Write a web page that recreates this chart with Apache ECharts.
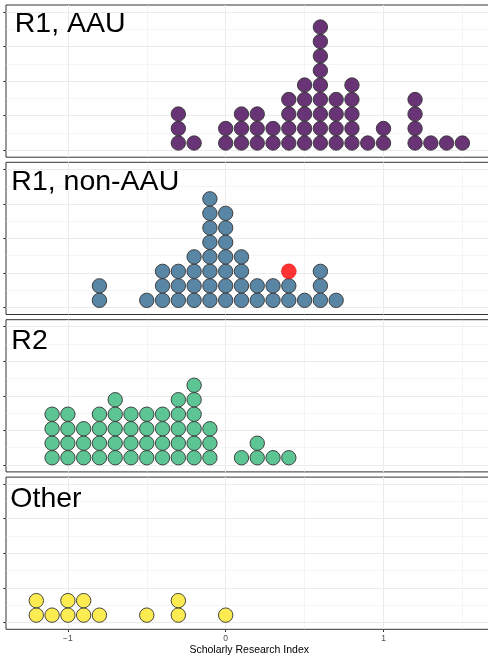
<!DOCTYPE html>
<html><head><meta charset="utf-8">
<style>html,body{margin:0;padding:0;background:#fff}#chart{width:488px;height:656px}</style>
<script src="https://cdn.jsdelivr.net/npm/echarts@6/dist/echarts.min.js"></script>
</head><body><div id="chart"></div>
<script>
// ---- data ----
const panelNames = ['R1, AAU', 'R1, non-AAU', 'R2', 'Other'];

const binsAAU   = [-0.3, -0.2, 0.0, 0.1, 0.2, 0.3, 0.4, 0.5, 0.6, 0.7, 0.8, 0.9, 1.0, 1.2, 1.3, 1.4, 1.5];
const countsAAU = [3, 1, 2, 3, 3, 2, 4, 5, 9, 4, 5, 1, 2, 4, 1, 1, 1];

const binsNonAAU   = [-0.8, -0.5, -0.4, -0.3, -0.2, -0.1, 0.0, 0.1, 0.2, 0.3, 0.4, 0.5, 0.6, 0.7];
const countsNonAAU = [2, 1, 3, 3, 4, 8, 7, 4, 2, 2, 2, 1, 3, 1];
const highlightBins = [0.4];   // highlighted institution (R1, non-AAU), stacked on top of its bin

const binsR2   = [-1.1, -1.0, -0.9, -0.8, -0.7, -0.6, -0.5, -0.4, -0.3, -0.2, -0.1, 0.1, 0.2, 0.3, 0.4];
const countsR2 = [4, 4, 3, 4, 5, 4, 4, 4, 5, 6, 3, 1, 2, 1, 1];

const binsOther   = [-1.2, -1.1, -1.0, -0.9, -0.8, -0.5, -0.3, 0.0];
const countsOther = [2, 1, 2, 2, 1, 1, 2, 1];

const xTickValues  = [-1, 0, 1];
const xMinorValues = [-0.5, 0.5, 1.5];
const yTickValues  = [0, 0.25, 0.5, 0.75, 1];
const yMinorValues = [0.125, 0.375, 0.625, 0.875];
const xAxisTitle = 'Scholarly Research Index';

// ---- layout / style ----
const FONT = '"Liberation Sans", Arial, Helvetica, sans-serif';
const PANEL_TOPS = [5, 162.3, 319.7, 477.1];
const PANEL_H = 152.2;
const GRID_LEFT = 6, GRID_W = 486.4;
const X_MIN = -1.392, X_MAX = 1.69;
const Y_MIN = -0.05, Y_MAX = 1.05;
const STACK_DY = 0.1048;
const DOT = 14.4;
const fills = ['#693476', '#5A86A5', '#5DC594', '#FDEC51'];
const titlePos = [[14.7, 9.6], [11.3, 168], [11.3, 326.3], [10.3, 484.6]];

const panels = [
  [binsAAU, countsAAU],
  [binsNonAAU, countsNonAAU],
  [binsR2, countsR2],
  [binsOther, countsOther]
];

function stackPoints(bins, counts) {
  const pts = [];
  bins.forEach((b, i) => {
    for (let k = 0; k < counts[i]; k++) pts.push([b, (k + 0.5) * STACK_DY]);
  });
  return pts;
}

const grids = [], xAxes = [], yAxes = [], series = [], titles = [];
const fmt = v => (v < 0 ? '\u2212' + Math.abs(v) : String(v));

panels.forEach((p, i) => {
  grids.push({
    left: GRID_LEFT, top: PANEL_TOPS[i], width: GRID_W, height: PANEL_H,
    show: true, borderColor: '#333333', borderWidth: 1, backgroundColor: 'rgba(0,0,0,0)',
    containLabel: false, outerBoundsMode: 'none'
  });
  const last = i === panels.length - 1;
  xAxes.push({
    type: 'value', gridIndex: i, min: X_MIN, max: X_MAX, position: 'bottom',
    axisLine: { show: false, onZero: false },
    axisTick: { show: last, customValues: xTickValues, length: 2.7, lineStyle: { color: '#333333', width: 1 } },
    axisLabel: { show: last, customValues: xTickValues, formatter: fmt, color: '#4D4D4D', fontSize: 8.5, margin: 4.5, fontFamily: FONT },
    splitLine: { show: true, lineStyle: { color: '#EBEBEB', width: 1 } },
    name: last ? xAxisTitle : '', nameLocation: 'middle', nameGap: 15.5,
    nameTextStyle: { color: '#000', fontSize: 10.5, fontFamily: FONT }
  });
  xAxes.push({
    type: 'value', gridIndex: i, min: X_MIN, max: X_MAX, position: 'bottom',
    axisLine: { show: false, onZero: false },
    axisTick: { show: false, customValues: xMinorValues },
    axisLabel: { show: false, customValues: xMinorValues },
    splitLine: { show: true, lineStyle: { color: '#EBEBEB', width: 0.5 } }
  });
  yAxes.push({
    type: 'value', gridIndex: i, min: Y_MIN, max: Y_MAX, position: 'left',
    axisLine: { show: false, onZero: false },
    axisTick: { show: true, customValues: yTickValues, length: 2.7, lineStyle: { color: '#333333', width: 1 } },
    axisLabel: { show: false, customValues: yTickValues },
    splitLine: { show: true, lineStyle: { color: '#EBEBEB', width: 1 } }
  });
  yAxes.push({
    type: 'value', gridIndex: i, min: Y_MIN, max: Y_MAX, position: 'left',
    axisLine: { show: false, onZero: false },
    axisTick: { show: false, customValues: yMinorValues },
    axisLabel: { show: false, customValues: yMinorValues },
    splitLine: { show: true, lineStyle: { color: '#EBEBEB', width: 0.5 } }
  });
  series.push({
    type: 'scatter', name: panelNames[i], xAxisIndex: 2 * i, yAxisIndex: 2 * i,
    data: stackPoints(p[0], p[1]), symbol: 'circle', symbolSize: DOT, silent: true,
    itemStyle: { color: fills[i], borderColor: '#333333', borderWidth: 0.9, opacity: 1 }, z: 3
  });
  titles.push({
    text: panelNames[i], left: titlePos[i][0], top: titlePos[i][1], padding: 0,
    textStyle: { fontSize: 28.5, fontWeight: 'normal', color: '#000', fontFamily: FONT }
  });
});

// highlighted dot in the R1, non-AAU panel
series.push({
  type: 'scatter', name: 'highlight', xAxisIndex: 2, yAxisIndex: 2,
  data: highlightBins.map(b => {
    const idx = binsNonAAU.indexOf(b);
    const below = idx >= 0 ? countsNonAAU[idx] : 0;
    return [b, (below + 0.5) * STACK_DY];
  }),
  symbol: 'circle', symbolSize: DOT + 0.6, silent: true,
  itemStyle: { color: '#FF0000', borderColor: '#E60000', borderWidth: 0.5 }, z: 4
});

const chart = echarts.init(document.getElementById('chart'), null, { renderer: 'canvas' });
chart.setOption({
  animation: false,
  backgroundColor: '#ffffff',
  title: titles,
  grid: grids,
  xAxis: xAxes,
  yAxis: yAxes,
  series: series
});
</script></body></html>
